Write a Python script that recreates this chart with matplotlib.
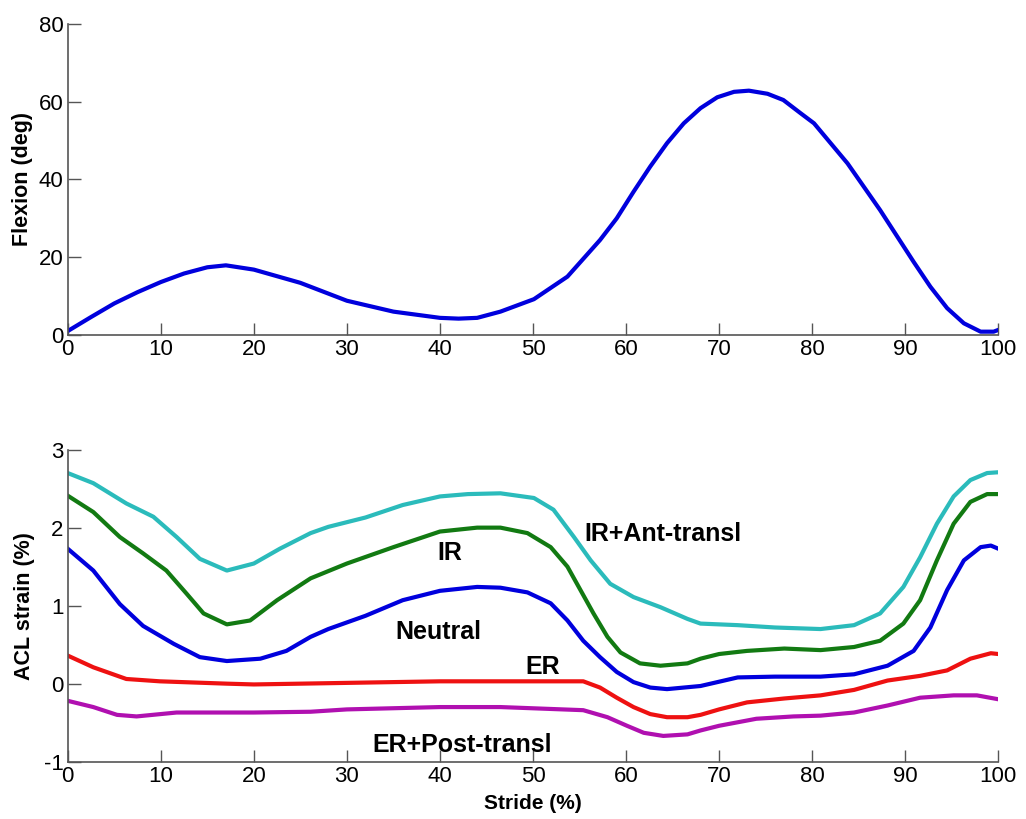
import numpy as np
import matplotlib.pyplot as plt

plt.rcParams['font.family'] = ['Liberation Sans', 'DejaVu Sans']
plt.rcParams['axes.unicode_minus'] = False

# knee flexion over the stride
flex_x = [0, 2.5, 5, 7.5, 10, 12.5, 15, 17, 20, 25, 30, 35, 40, 42, 44, 46.5, 50.1, 53.7,
          57.2, 59.0, 60.8, 62.6, 64.4, 66.2, 68.0, 69.8, 71.6, 73.2, 75.2, 76.9, 78.7, 80.2,
          83.8, 87.3, 90.9, 92.7, 94.5, 96.3, 98.1, 99.5, 100]
flex_y = [1.0, 4.6, 8.1, 11.0, 13.6, 15.8, 17.4, 17.9, 16.8, 13.4, 8.8, 6.0, 4.4, 4.2, 4.4,
          6.0, 9.2, 15.0, 24.4, 30.0, 36.8, 43.3, 49.3, 54.4, 58.3, 61.1, 62.5, 62.8, 62.0,
          60.4, 57.1, 54.4, 44.1, 32.1, 18.8, 12.4, 6.9, 3.0, 0.85, 0.85, 1.3]

# ACL strain curves
cyan_x = [0, 2.75, 6.3, 9.2, 11.7, 14.2, 17.1, 20.0, 22.8, 26.1, 28, 32, 36, 40, 43, 46.5,
          50.1, 52.2, 54.4, 56.2, 58.3, 60.8, 63.7, 66.6, 68.0, 72, 76, 80.9, 84.5, 87.3,
          89.8, 91.6, 93.4, 95.2, 97.0, 98.8, 100]
cyan_y = [2.70, 2.57, 2.31, 2.14, 1.88, 1.60, 1.45, 1.54, 1.73, 1.93, 2.01, 2.13, 2.29, 2.40,
          2.43, 2.44, 2.38, 2.23, 1.88, 1.58, 1.28, 1.11, 0.98, 0.83, 0.77, 0.75, 0.72, 0.70,
          0.75, 0.90, 1.24, 1.62, 2.05, 2.40, 2.61, 2.70, 2.71]

green_x = [0, 2.75, 5.6, 8.1, 10.6, 12.8, 14.6, 17.1, 19.6, 22.5, 26.1, 30, 35, 40, 44, 46.5,
           49.4, 51.9, 53.7, 55.1, 56.5, 58.0, 59.4, 61.5, 63.7, 66.6, 68.0, 70, 73, 77,
           80.9, 84.5, 87.3, 89.8, 91.6, 93.4, 95.2, 97.0, 98.8, 100]
green_y = [2.41, 2.20, 1.88, 1.67, 1.45, 1.15, 0.90, 0.76, 0.81, 1.07, 1.35, 1.54, 1.75, 1.95,
           2.00, 2.00, 1.93, 1.75, 1.50, 1.20, 0.90, 0.60, 0.40, 0.26, 0.23, 0.26, 0.32, 0.38,
           0.42, 0.45, 0.43, 0.47, 0.55, 0.77, 1.07, 1.58, 2.05, 2.33, 2.43, 2.43]

blue_x = [0, 2.75, 5.6, 8.1, 11.4, 14.2, 17.1, 20.7, 23.5, 26.1, 28, 32, 36, 40, 44, 46.5,
          49.4, 51.9, 53.7, 55.4, 57.2, 59.0, 60.8, 62.6, 64.4, 68.0, 72, 76, 80.9, 84.5,
          88.1, 90.9, 92.7, 94.5, 96.3, 98.1, 99.2, 100]
blue_y = [1.73, 1.45, 1.02, 0.74, 0.51, 0.34, 0.29, 0.32, 0.42, 0.60, 0.70, 0.87, 1.07, 1.19,
          1.24, 1.23, 1.17, 1.03, 0.81, 0.55, 0.34, 0.15, 0.02, -0.05, -0.07, -0.03, 0.08,
          0.09, 0.09, 0.12, 0.23, 0.42, 0.72, 1.20, 1.58, 1.75, 1.77, 1.73]

red_x = [0, 2.75, 6.3, 9.9, 17.1, 20, 30, 40, 46.5, 55.4, 57.2, 59.0, 60.8, 62.6, 64.4, 66.6,
         68.0, 70, 73, 77, 80.9, 84.5, 88.1, 91.6, 94.5, 97.0, 99.2, 100]
red_y = [0.36, 0.21, 0.06, 0.03, 0.00, -0.01, 0.01, 0.03, 0.03, 0.03, -0.05, -0.18, -0.30,
         -0.39, -0.43, -0.43, -0.40, -0.33, -0.24, -0.19, -0.15, -0.08, 0.04, 0.10, 0.17,
         0.32, 0.39, 0.38]

mag_x = [0, 2.75, 5.3, 7.4, 11.7, 20, 26.1, 30, 40, 46.5, 55.4, 58.0, 60.1, 61.9, 64.0, 66.6,
         68.0, 70, 74, 78, 80.9, 84.5, 88.1, 91.6, 95.2, 97.7, 100]
mag_y = [-0.22, -0.30, -0.40, -0.42, -0.37, -0.37, -0.36, -0.33, -0.30, -0.30, -0.34, -0.43,
         -0.54, -0.63, -0.67, -0.65, -0.60, -0.54, -0.45, -0.42, -0.41, -0.37, -0.28, -0.18,
         -0.15, -0.15, -0.20]

fig = plt.figure(figsize=(10.26, 8.19), dpi=100)
ax1 = fig.add_axes([0.066, 0.591, 0.907, 0.380])
ax2 = fig.add_axes([0.066, 0.070, 0.907, 0.381])

lw = 3
ax1.plot(flex_x, flex_y, color='#0000DD', lw=lw, solid_joinstyle='round')

for xs, ys, c in [(cyan_x, cyan_y, '#2BBBBB'), (green_x, green_y, '#127A12'),
                  (blue_x, blue_y, '#0000DD'), (red_x, red_y, '#EE1111'),
                  (mag_x, mag_y, '#B010B0')]:
    ax2.plot(xs, ys, color=c, lw=lw, solid_joinstyle='round')

lab = dict(fontsize=18, fontweight='bold', ha='center', va='center')
ax2.text(41.1, 1.67, 'IR', **lab)
ax2.text(39.8, 0.66, 'Neutral', **lab)
ax2.text(64.0, 1.92, 'IR+Ant-transl', **lab)
ax2.text(51.0, 0.21, 'ER', **lab)
ax2.text(42.4, -0.78, 'ER+Post-transl', **lab)

ax1.set_xlim(0, 100)
ax1.set_ylim(0, 80)
ax1.set_yticks([0, 20, 40, 60, 80])
ax2.set_xlim(0, 100)
ax2.set_ylim(-1, 3)
ax2.set_yticks([-1, 0, 1, 2, 3])

for ax in (ax1, ax2):
    ax.set_xticks(range(0, 101, 10))
    ax.spines['top'].set_visible(False)
    ax.spines['right'].set_visible(False)
    for s in ('left', 'bottom'):
        ax.spines[s].set_color('#555555')
        ax.spines[s].set_linewidth(1.2)
    ax.tick_params(direction='in', length=9, width=1, color='#555555',
                   labelsize=16, pad=3)

ax1.set_ylabel('Flexion (deg)', fontsize=15.5, fontweight='bold', labelpad=4)
ax2.set_ylabel('ACL strain (%)', fontsize=15.5, fontweight='bold', labelpad=6)
ax2.set_xlabel('Stride (%)', fontsize=15, fontweight='bold', labelpad=5)

fig.savefig('out.png', dpi=100)
